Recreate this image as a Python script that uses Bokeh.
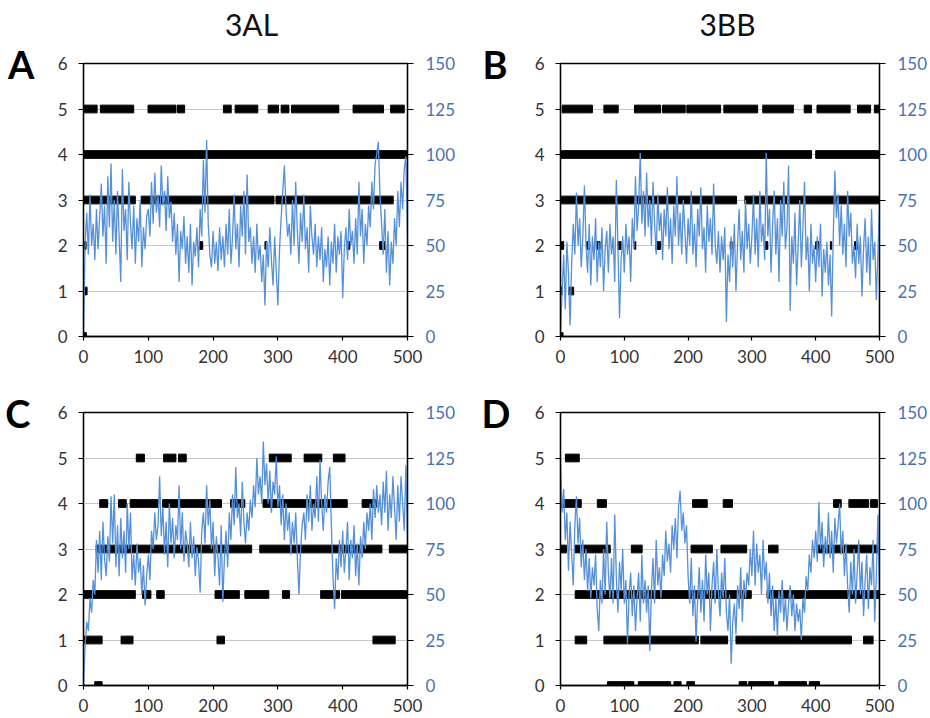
from bokeh.plotting import figure
from bokeh.models import Range1d, LinearAxis, FixedTicker
from bokeh.core.properties import value
from bokeh.layouts import row, column
from bokeh.embed import file_html
from bokeh.resources import INLINE

# sampling times (x)
time = [i * 2.5 for i in range(201)]

# ---- blue series (right axis, 0-150) ----
a_blue = [0, 52, 68, 45, 78, 50, 62, 42,
          70, 48, 66, 84, 55, 72, 40, 88,
          60, 95, 52, 75, 45, 80, 55, 30,
          92, 58, 70, 42, 85, 62, 48, 72,
          40, 65, 52, 75, 38, 60, 48, 66,
          70, 55, 85, 62, 90, 68, 78, 60,
          94, 72, 80, 58, 88, 65, 74, 52,
          68, 45, 62, 30, 58, 48, 66, 40,
          55, 35, 62, 28, 52, 44, 60, 38,
          70, 55, 97, 68, 108, 62, 45, 38,
          58, 40, 52, 36, 60, 42, 55, 38,
          62, 45, 70, 40, 55, 78, 48, 62,
          38, 72, 55, 80, 45, 89, 52, 60,
          40, 55, 35, 62, 42, 50, 30, 45,
          17, 52, 38, 60, 42, 28, 55, 35,
          17, 48, 65, 80, 94, 70, 55, 62,
          45, 75, 50, 85, 58, 40, 68, 52,
          78, 48, 60, 35, 72, 55, 45, 62,
          38, 55, 42, 60, 30, 48, 38, 55,
          28, 52, 40, 62, 35, 55, 45, 58,
          21, 48, 60, 42, 70, 50, 58, 40,
          65, 45, 85, 55, 70, 40, 62, 50,
          72, 60, 85, 70, 95, 100, 107, 78,
          62, 45, 70, 35, 58, 28, 52, 40,
          65, 50, 80, 60, 85, 70, 92, 99,
          55]

b_blue = [0, 25, 45, 15, 52, 35, 6, 40,
          62, 45, 79, 50, 65, 38, 55, 83,
          50, 35, 62, 28, 55, 42, 65, 30,
          52, 38, 60, 25, 48, 58, 35, 62,
          45, 55, 30, 86, 50, 10, 42, 55,
          35, 62, 45, 55, 30, 65, 48, 88,
          58, 72, 101, 62, 80, 55, 90, 60,
          75, 50, 85, 62, 45, 78, 58, 68,
          42, 70, 55, 82, 48, 65, 40, 72,
          55, 88, 50, 68, 45, 75, 58, 40,
          65, 50, 80, 45, 62, 38, 70, 55,
          82, 48, 60, 35, 72, 52, 65, 45,
          84, 50, 40, 58, 35, 55, 42, 60,
          8, 45, 30, 55, 38, 62, 25, 50,
          70, 42, 58, 35, 75, 48, 62, 40,
          55, 78, 45, 65, 38, 80, 52, 62,
          42, 101, 55, 70, 35, 62, 80, 45,
          65, 30, 75, 55, 85, 48, 60, 94,
          14, 55, 40, 68, 28, 50, 75, 38,
          60, 85, 42, 55, 25, 62, 40, 50,
          30, 55, 38, 62, 22, 48, 35, 52,
          28, 45, 11, 55, 91, 65, 78, 50,
          72, 45, 62, 38, 80, 55, 68, 40,
          50, 32, 62, 40, 55, 22, 48, 65,
          35, 55, 28, 70, 42, 52, 20, 45,
          72]

c_blue = [0, 22, 35, 30, 48, 40, 58, 50,
          80, 62, 85, 58, 90, 70, 60, 82,
          68, 104, 78, 105, 65, 88, 60, 92,
          70, 85, 62, 100, 75, 95, 58, 72,
          55, 78, 62, 70, 50, 66, 44, 60,
          72, 58, 85, 75, 95, 80, 88, 115,
          82, 98, 72, 90, 65, 100, 78, 92,
          70, 88, 80, 110, 75, 95, 68, 85,
          78, 65, 90, 70, 82, 60, 76, 68,
          51, 85, 95, 78, 110, 88, 102, 75,
          90, 60, 82, 70, 55, 88, 46, 70,
          85, 65, 95, 80, 105, 88, 120, 92,
          100, 82, 112, 90, 78, 95, 85, 102,
          92, 110, 98, 125, 105, 115, 100, 134,
          110, 122, 100, 118, 95, 112, 105, 126,
          98, 110, 88, 105, 80, 100, 85, 95,
          72, 90, 78, 95, 70, 50, 75, 88,
          95, 80, 105, 90, 110, 85, 100, 92,
          115, 90, 124, 100, 85, 105, 95, 112,
          120, 88, 60, 42, 70, 58, 80, 65,
          85, 62, 75, 90, 58, 80, 70, 88,
          60, 78, 55, 82, 70, 90, 75, 95,
          85, 100, 80, 108, 92, 110, 95, 105,
          88, 112, 95, 118, 85, 105, 92, 115,
          98, 80, 110, 90, 115, 100, 85, 121,
          80]

d_blue = [125, 95, 108, 80, 95, 63, 90, 72,
          55, 88, 104, 78, 92, 65, 80, 58,
          75, 52, 70, 48, 65, 55, 72, 42,
          30, 58, 45, 75, 50, 90, 62, 48,
          70, 45, 94, 60, 40, 68, 52, 75,
          45, 58, 23, 50, 62, 38, 55, 30,
          48, 62, 35, 72, 45, 58, 40, 55,
          19, 52, 70, 45, 80, 55, 65, 48,
          72, 60, 85, 68, 78, 62, 88, 75,
          92, 70, 98, 107, 85, 95, 78, 88,
          60, 45, 70, 38, 55, 24, 48, 65,
          40, 58, 35, 72, 50, 62, 30, 55,
          68, 45, 75, 52, 38, 62, 48, 70,
          40, 30, 50, 12, 35, 45, 28, 55,
          42, 65, 35, 58, 48, 62, 55, 75,
          60, 85, 55, 78, 62, 72, 50, 80,
          58, 68, 45, 62, 38, 55, 30, 48,
          27, 52, 40, 58, 35, 48, 30, 45,
          55, 38, 50, 30, 45, 35, 42, 25,
          48, 40, 60, 52, 72, 62, 80, 70,
          85, 68, 101, 75, 90, 65, 82, 72,
          95, 70, 85, 62, 92, 78, 88, 100,
          72, 85, 60, 78, 55, 40, 68, 50,
          75, 45, 62, 80, 50, 68, 38, 58,
          72, 42, 65, 55, 80, 35, 60, 94,
          50]

# ---- black state runs (left axis, 0-6): level, run start, run end ----
a_level = [5]*11 + [4] + [3]*3 + [2]*5 + [1] + [0]
a_start = [-5, 26, 99.6, 145, 216, 234, 285, 305, 321, 416, 474,
           -5,
           -5, 89, 297,
           -5, 179, 280, 407, 457,
           -5,
           -5]
a_end = [21, 77.5, 142.7, 156, 228, 269, 301, 317, 394, 463, 495,
         505,
         80, 294, 478,
         4, 184, 283, 411, 466,
         5.5,
         4.5]

b_level = [5]*11 + [4]*2 + [3]*2 + [2]*11 + [1]*2 + [0]
b_start = [2.6, 68, 116, 160, 198, 256, 317, 382, 402, 465.5, 492,
           -5, 400,
           -5, 289,
           -5, 41, 56, 90, 116, 149, 266, 320, 400, 423, 461,
           -5, 13,
           -5]
b_end = [50, 90.5, 157, 195.5, 251, 309, 365, 393.5, 454, 486, 505,
         393.5, 505,
         276, 505,
         5, 46, 62, 95, 118, 157, 269, 325, 405, 425, 466,
         2.5, 20.6,
         4]

c_level = [5]*6 + [4]*7 + [3]*3 + [2]*8 + [1]*4 + [0]
c_start = [81.5, 123.6, 146.7, 286.7, 340.5, 385.6,
           25, 54, 72, 122, 227, 277, 430,
           19.5, 272, 472,
           -5, 91, 113, 203, 249, 307, 366, 398,
           -5, 58, 206, 446.7,
           17.4]
c_end = [94, 142.6, 158.5, 320.5, 367.7, 403.6,
         37.4, 66, 116, 213, 249, 407, 452,
         259.5, 460.5, 505,
         80, 104, 124.6, 240.5, 286, 318, 395, 505,
         28.7, 76.4, 217.5, 481,
         28.7]

d_level = [5] + [4]*7 + [3]*7 + [2]*2 + [1]*5 + [0]*8
d_start = [7.7,
           -5, 57.7, 207, 255, 428, 452, 486,
           -5, 23, 111, 204.6, 251.5, 326, 401,
           23, 323.7,
           23, 68, 220, 275, 475,
           73.7, 122, 177.8, 198, 280, 295, 342, 390]
d_end = [29.4,
         32.5, 72, 230, 269.6, 440, 483, 497,
         9.3, 78, 128, 238, 291.8, 341, 505,
         299, 505,
         41, 216, 262, 456, 490,
         115, 172.7, 189, 210, 292, 334, 385.6, 406]

x_ticks = [0, 100, 200, 300, 400, 500]
left_ticks = [0, 1, 2, 3, 4, 5, 6]
right_ticks = [0, 25, 50, 75, 100, 125, 150]

column_titles = ["3AL", "3BB"]
panel_letters = ["A", "B", "C", "D"]

FONT = "Lato"
BLUE_LINE = "#5590D8"
BLUE_TEXT = "#4A72B0"


def blank(width, height):
    f = figure(width=width, height=height, x_range=Range1d(0, width),
               y_range=Range1d(0, height), output_backend="svg",
               toolbar_location=None, min_border=0,
               min_border_left=0, min_border_right=0,
               min_border_top=0, min_border_bottom=0,
               outline_line_color=None,
               background_fill_color="white", border_fill_color="white")
    f.axis.visible = False
    f.grid.visible = False
    return f


def panel(blue, lvl, st, en, letter, letter_standoff,
          width, height, bl, br, bt, bb):
    p = figure(width=width, height=height,
               x_range=Range1d(0, 500), y_range=Range1d(0, 6),
               output_backend="svg", toolbar_location=None,
               min_border_left=bl, min_border_right=br,
               min_border_top=bt, min_border_bottom=bb,
               background_fill_color="white", border_fill_color="white")
    p.extra_y_ranges = {"r": Range1d(0, 150)}
    p.outline_line_color = "black"
    p.outline_line_width = 1.3
    p.outline_line_alpha = 1.0

    p.xgrid.visible = False
    p.ygrid.ticker = FixedTicker(ticks=left_ticks)
    p.ygrid.grid_line_color = "#C8C8C8"
    p.ygrid.grid_line_width = 1.2

    p.xaxis.ticker = FixedTicker(ticks=x_ticks)
    p.yaxis.ticker = FixedTicker(ticks=left_ticks)

    ra = LinearAxis(y_range_name="r", ticker=FixedTicker(ticks=right_ticks))
    p.add_layout(ra, "right")

    for ax in [p.xaxis[0], p.yaxis[0], ra]:
        ax.axis_line_color = "black"
        ax.axis_line_width = 1.3
        ax.major_tick_line_color = "black"
        ax.major_tick_line_width = 1.2
        ax.major_tick_in = 0
        ax.minor_tick_line_color = None
        ax.major_label_text_font = FONT
        ax.major_label_text_font_size = "17px"
        ax.major_label_text_color = "#333333"
    p.xaxis.major_tick_out = 4
    p.xaxis.major_label_standoff = 9
    p.yaxis.major_tick_out = 5
    p.yaxis.major_label_standoff = 11
    ra.major_tick_out = 6
    ra.major_label_standoff = 12
    ra.major_label_text_color = BLUE_TEXT

    # panel letter, set as the single label of an outer left axis at the top
    la = LinearAxis(ticker=FixedTicker(ticks=[6]),
                    major_label_overrides={6: letter})
    la.axis_line_color = None
    la.major_tick_line_color = None
    la.minor_tick_line_color = None
    la.major_tick_in = 0
    la.major_tick_out = 0
    la.major_label_standoff = letter_standoff
    la.major_label_text_font = FONT
    la.major_label_text_font_style = "bold"
    la.major_label_text_font_size = "38px"
    la.major_label_text_color = "black"
    p.add_layout(la, "left")

    # black states
    p.hbar(y=lvl, left=st, right=en, height=0.17, color="black")
    # blue trace
    p.line(time, blue, y_range_name="r", line_color=BLUE_LINE, line_width=1.3)
    return p


# column titles strip
tf = blank(930, 40)
tf.text(x=[251, 727], y=[17, 17], text=column_titles, text_font=value(FONT),
        text_font_size="30px", text_align="center", text_baseline="middle",
        text_color="#111111")

pA = panel(a_blue, a_level, a_start, a_end, panel_letters[0], 20,
           465, 331, 83, 58, 23, 35)
pB = panel(b_blue, b_level, b_start, b_end, panel_letters[1], 24,
           465, 331, 95, 46, 23, 35)
pC = panel(c_blue, c_level, c_start, c_end, panel_letters[2], 24,
           465, 347, 83, 58, 41, 33)
pD = panel(d_blue, d_level, d_start, d_end, panel_letters[3], 21,
           465, 347, 95, 46, 41, 33)

layout = column(tf, row(pA, pB), row(pC, pD))
open("out.html", "w").write(file_html(layout, INLINE))
